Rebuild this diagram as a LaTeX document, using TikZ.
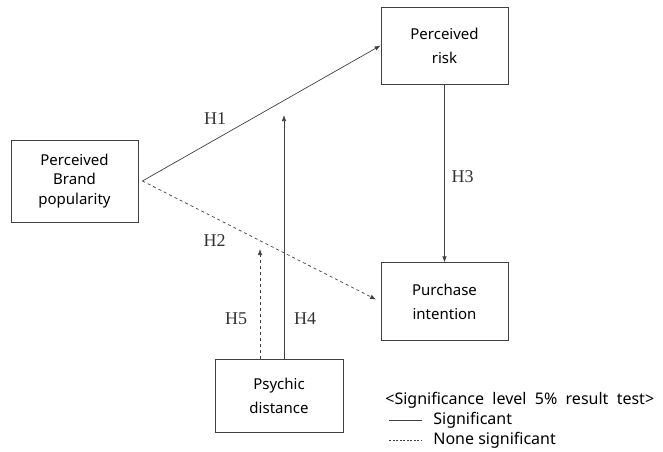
\documentclass[tikz,border=0pt]{standalone}
\usepackage{fontspec}
\setmainfont{Noto Sans}
\newfontfamily\hfont{Liberation Serif}
\usetikzlibrary{arrows.meta,positioning}
\tikzstyle{var}=[draw=black!75,line width=0.8pt,minimum width=127pt,minimum height=77pt,align=center,font=\fontsize{15}{24}\selectfont]
\tikzstyle{hyp}=[font=\hfont\fontsize{18}{18}\selectfont,text=black!80]
\tikzstyle{legend}=[font=\fontsize{16}{16}\selectfont,anchor=west,inner sep=0pt]

\begin{document}
\begin{tikzpicture}[->,>={Latex[length=6pt,width=4.5pt]},x=1pt,y=1pt,line width=0.7pt,draw=black!75]
	\useasboundingbox (0,0) rectangle (663,451);
	\node[var,minimum height=82pt,font=\fontsize{15}{19.5}\selectfont] (brand) at (74.5,270) {Perceived\\Brand\\popularity};
	\node[var] (risk) at (444.5,405.5) {Perceived\\risk};
	\node[var,minimum height=78pt] (purchase) [below=178pt of risk] {Purchase\\intention};
	\node[var,minimum width=128pt,minimum height=73pt] (psychic) at (279,55.5) {Psychic\\distance};
		\coordinate (src) at ([xshift=4pt]brand.east);
		\coordinate (h4end) at (284,336);
		\coordinate (h5end) at (260,202);
		\coordinate (h4start) at (h4end |- psychic.north);
		\coordinate (h5start) at (h5end |- psychic.north);
	\path
		(src)	edge[]	node[hyp,pos=0.305,yshift=21pt]{H1}	(risk.west)
		(src)	edge[dashed,shorten >=5pt]	node[hyp,pos=0.303,yshift=-23pt]{H2}	(purchase.west)
		(risk)	edge[]	node[hyp,pos=0.52,xshift=18pt]{H3}	(purchase)
		(h4start)	edge[]	node[hyp,pos=0.164,xshift=21pt]{H4}	(h4end)
		(h5start)	edge[dashed]	node[hyp,pos=0.364,xshift=-24pt]{H5}	(h5end);
	% legend
	\node[legend] (title) at (385,51) {<Significance\ \ level\ \ 5\%\ \ result\ \ test>};
	\coordinate (sigA) at (389,31);
	\coordinate (sigB) at (422,31);
	\coordinate (nsA) at (389,11);
	\coordinate (nsB) at (422,11);
	\draw[-] (sigA) -- (sigB) node[legend,right=11pt] (sig) {Significant};
	\draw[-,dashed,dash pattern=on 2pt off 1.5pt] (nsA) -- (nsB) node[legend,right=11pt] (ns) {None significant};
\end{tikzpicture}
\end{document}
